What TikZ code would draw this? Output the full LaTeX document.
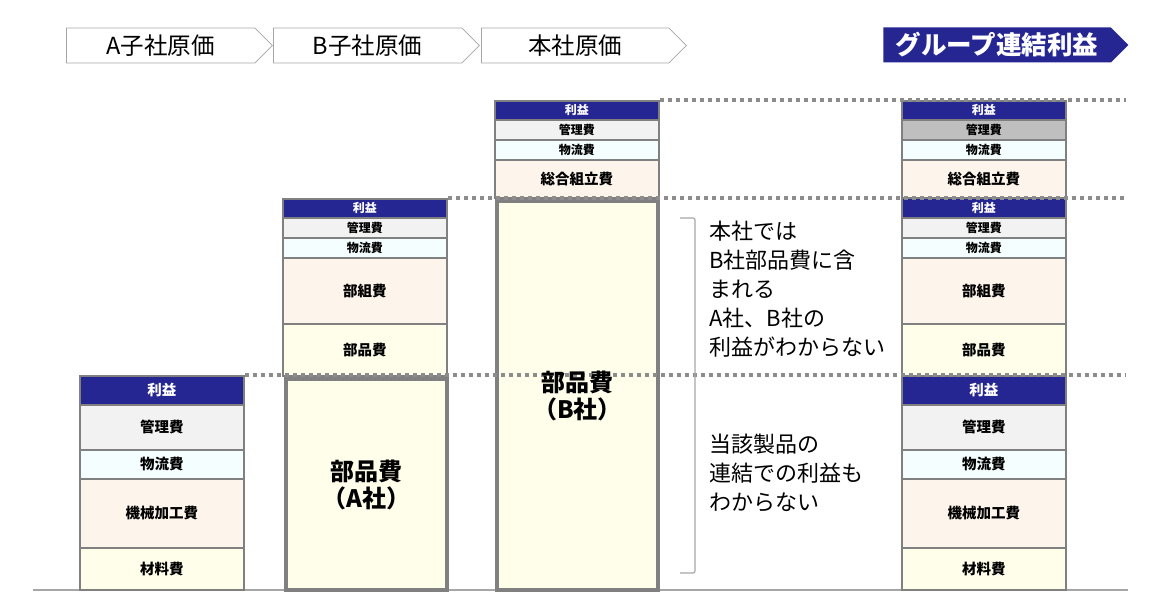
\documentclass[tikz,border=0pt]{standalone}
\usepackage{fontspec}
\setmainfont{Noto Sans CJK JP}
\usepackage{tikz}
\usetikzlibrary{shapes.symbols}

\definecolor{navyblue}{HTML}{262693}
\definecolor{kanrigray}{HTML}{F2F2F2}
\definecolor{kanridark}{HTML}{BFBFBF}
\definecolor{butsuryu}{HTML}{F4FEFE}
\definecolor{kakou}{HTML}{FDF4EB}
\definecolor{buhin}{HTML}{FEFEEB}
\definecolor{framegray}{HTML}{808080}
\definecolor{guidegray}{HTML}{8C8C8C}
\definecolor{linegray}{HTML}{A6A6A6}

\begin{document}
\begin{tikzpicture}[x=1pt, y=-1pt,
    cell/.style={draw=framegray, line width=1.8pt, inner sep=0pt, minimum width=164pt, anchor=north west},
    lblS/.style={font=\bfseries\fontsize{12}{14}\selectfont},
    lblL/.style={font=\bfseries\fontsize{14.5}{17}\selectfont},
    rieki/.style={cell, fill=navyblue, text=white},
    kanri/.style={cell, fill=kanrigray},
    butsu/.style={cell, fill=butsuryu},
    kakouhi/.style={cell, fill=kakou},
    buhinhi/.style={cell, fill=buhin},
    partbox/.style={draw=framegray, line width=4pt, fill=buhin, inner sep=0pt, minimum width=161pt, anchor=north west},
    partlbl/.style={align=center, font=\bfseries\fontsize{24}{27}\selectfont},
    guide/.style={guidegray, line width=3.5pt, dash pattern=on 4pt off 4pt},
    header/.style={signal, signal to=east, signal pointer angle=90, draw=linegray, line width=0.8pt, minimum height=35pt, anchor=west, font=\fontsize{23.5}{27}\selectfont},
    note/.style={align=left, inner sep=0pt, anchor=north west, font=\fontsize{22}{29}\selectfont}
]
    \useasboundingbox (0,0) rectangle (1159,612);

    % ground line
    \coordinate (g0) at (33,590);
    \coordinate (g1) at (1128,590);
    \draw[linegray, line width=1.5pt] (g0) -- (g1);

    % headers
    \node[header, minimum width=206pt] (hA) at (66,45.5) {A子社原価};
    \node[header, minimum width=206pt] (hB) at (273,45.5) {B子社原価};
    \node[header, minimum width=205pt] (hC) at (481,45.5) {本社原価};
    \node[header, draw=none, fill=navyblue, text=white, minimum width=245pt, font=\bfseries\fontsize{25.5}{28}\selectfont] (hG) at (883,45) {グループ連結利益};

    % A subsidiary
    \node[rieki, lblL, minimum height=29pt] (a1) at (79,375) {利益};
    \node[kanri, lblL, minimum height=45pt] (a2) at (79,404) {管理費};
    \node[butsu, lblL, minimum height=29pt] (a3) at (79,449) {物流費};
    \node[kakouhi, lblL, minimum height=69pt] (a4) at (79,478) {機械加工費};
    \node[buhinhi, lblL, minimum height=42pt] (a5) at (79,547) {材料費};

    % B subsidiary
    \node[rieki, lblS, minimum height=19pt] (b1) at (282,198) {利益};
    \node[kanri, lblS, minimum height=20pt] (b2) at (282,217) {管理費};
    \node[butsu, lblS, minimum height=20pt] (b3) at (282,237) {物流費};
    \node[kakouhi, lblL, minimum height=66pt] (b4) at (282,257) {部組費};
    \node[buhinhi, lblL, minimum height=52pt] (b5) at (282,323) {部品費};
    \node[partbox, minimum height=211pt, partlbl] (bA) at (284,377) {部品費\\（A社）};

    % head office
    \node[rieki, lblS, minimum height=19pt] (c1) at (494,100) {利益};
    \node[kanri, lblS, minimum height=20pt] (c2) at (494,119) {管理費};
    \node[butsu, lblS, minimum height=20pt] (c3) at (494,139) {物流費};
    \node[kakouhi, lblL, minimum height=38pt] (c4) at (494,159) {総合組立費};
    \node[partbox, minimum height=389pt] (cB) at (495,199) {};

    % group
    \node[rieki, lblS, minimum height=19pt] (d1) at (901,100) {利益};
    \node[kanri, lblS, fill=kanridark, minimum height=20pt] (d2) at (901,119) {管理費};
    \node[butsu, lblS, minimum height=20pt] (d3) at (901,139) {物流費};
    \node[kakouhi, lblL, minimum height=38pt] (d4) at (901,159) {総合組立費};
    \node[rieki, lblS, minimum height=20pt] (d5) at (901,197) {利益};
    \node[kanri, lblS, minimum height=20pt] (d6) at (901,217) {管理費};
    \node[butsu, lblS, minimum height=20pt] (d7) at (901,237) {物流費};
    \node[kakouhi, lblL, minimum height=66pt] (d8) at (901,257) {部組費};
    \node[buhinhi, lblL, minimum height=52pt] (d9) at (901,323) {部品費};
    \node[rieki, lblL, minimum height=29pt] (d10) at (901,375) {利益};
    \node[kanri, lblL, minimum height=45pt] (d11) at (901,404) {管理費};
    \node[butsu, lblL, minimum height=29pt] (d12) at (901,449) {物流費};
    \node[kakouhi, lblL, minimum height=69pt] (d13) at (901,478) {機械加工費};
    \node[buhinhi, lblL, minimum height=42pt] (d14) at (901,547) {材料費};

    % profit levels
    \coordinate (gEnd) at (1126,0);
    \draw[guide] (c1.north east) -- (c1.north east -| gEnd);
    \draw[guide] (b1.north east) -- (b1.north east -| gEnd);
    \draw[guide] (a1.north east) -- (a1.north east -| gEnd);

    \node[partlbl] (cBtext) at (cB.center) {部品費\\（B社）};

    % bracket and notes
    \draw[linegray, line width=1.2pt, rounded corners=2pt] (680,218) -- (695,218) -- (695,573) -- (680,573);
    \node[note] (n1) at (709,221) {本社では\\B社部品費に含\\まれる\\A社、B社の\\利益がわからない};
    \node[note] (n2) at (709,434) {当該製品の\\連結での利益も\\わからない};
\end{tikzpicture}
\end{document}
